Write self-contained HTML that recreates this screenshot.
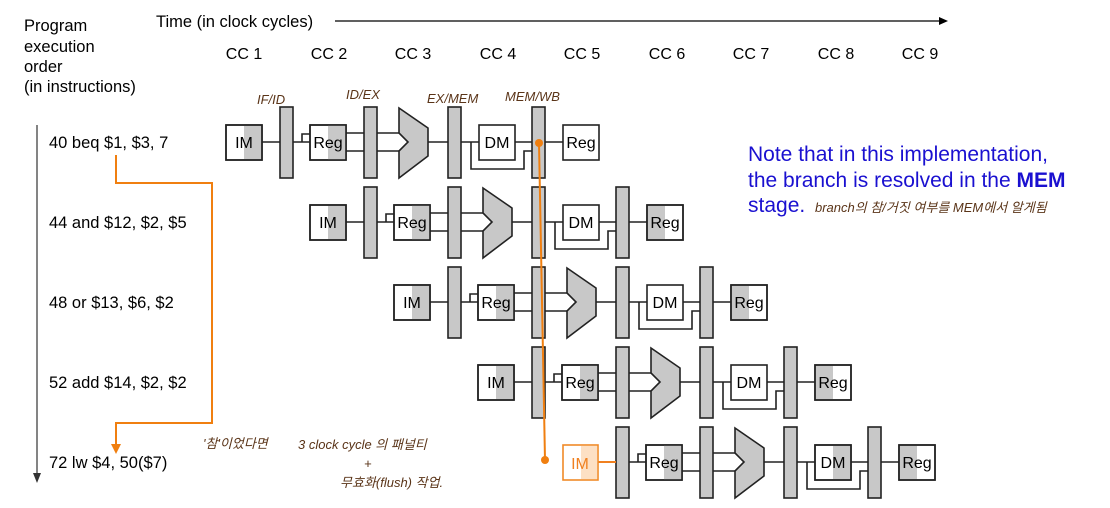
<!DOCTYPE html>
<html><head><meta charset="utf-8"><style>
body{margin:0;background:#fff;width:1110px;height:508px;overflow:hidden}
svg{display:block}
text{font-family:"Liberation Sans","Noto Sans CJK KR",sans-serif}
.h{fill:#5a3418;font-family:"Liberation Sans","Noto Sans CJK KR",sans-serif;font-style:italic;font-size:13px}
</style></head><body>
<svg width="1110" height="508" viewBox="0 0 1110 508" xmlns="http://www.w3.org/2000/svg">
<defs>
<g id="base" stroke="#222" stroke-width="1.6" fill="none">
  <rect x="280" y="107" width="13" height="71" fill="#c8c8c8"/>
  <path d="M293 142H310M302 142V134H310"/>
  <path d="M346 133H364M346 151H364"/>
  <rect x="364" y="107" width="13" height="71" fill="#c8c8c8"/>
  <path d="M377 133H399M377 151H399"/>
  <polygon points="399,108 428,128 428,156 399,178 399,151 408,142 399,133" fill="#c8c8c8"/>
  <path d="M428 142H448"/>
  <rect x="448" y="107" width="13" height="71" fill="#c8c8c8"/>
  <path d="M461 142H479M471 142V169H524V151H532"/>
  <path d="M515 142H532"/>
  <rect x="532" y="107" width="13" height="71" fill="#c8c8c8"/>
  <path d="M545 142H563"/>
  <rect x="310" y="125" width="36" height="35" fill="#fff"/>
  <rect x="328" y="125" width="18" height="35" fill="#c8c8c8" stroke="none"/>
  <rect x="310" y="125" width="36" height="35"/>
  <rect x="479" y="125" width="36" height="35" fill="#fff"/>
  <rect x="563" y="125" width="36" height="35" fill="#fff"/>
</g>
<g id="im">
  <path d="M262 142H280" stroke="#222" stroke-width="1.6"/>
  <rect x="226" y="125" width="36" height="35" fill="#fff" stroke="#222" stroke-width="1.6"/>
  <rect x="244" y="126" width="17" height="33" fill="#c8c8c8"/>
  <rect x="226" y="125" width="36" height="35" fill="none" stroke="#222" stroke-width="1.6"/>
</g>
</defs>

<g font-size="16.5" fill="#000">
<text x="24" y="31">Program</text>
<text x="24" y="52">execution</text>
<text x="24" y="72">order</text>
<text x="24" y="92">(in instructions)</text>
<text x="156" y="27" font-size="16.5">Time (in clock cycles)</text>
</g>
<line x1="335" y1="21" x2="940" y2="21" stroke="#000" stroke-width="1.2"/>
<polygon points="948,21 939,17 939,25" fill="#000"/>
<g font-size="16" text-anchor="middle">
<text x="244" y="59">CC 1</text><text x="329" y="59">CC 2</text><text x="413" y="59">CC 3</text>
<text x="498" y="59">CC 4</text><text x="582" y="59">CC 5</text><text x="667" y="59">CC 6</text>
<text x="751" y="59">CC 7</text><text x="836" y="59">CC 8</text><text x="920" y="59">CC 9</text>
</g>
<line x1="37" y1="125" x2="37" y2="474" stroke="#333" stroke-width="1.2"/>
<polygon points="37,483 33,473 41,473" fill="#333"/>
<g font-size="16.5">
<text x="49" y="148">40 beq $1, $3, 7</text>
<text x="49" y="228">44 and $12, $2, $5</text>
<text x="49" y="308">48 or $13, $6, $2</text>
<text x="49" y="388">52 add $14, $2, $2</text>
<text x="49" y="468">72 lw $4, 50($7)</text>
</g>

<use href="#base"/><use href="#im"/>
<use href="#base" transform="translate(84,80)"/><use href="#im" transform="translate(84,80)"/>
<use href="#base" transform="translate(168,160)"/><use href="#im" transform="translate(168,160)"/>
<use href="#base" transform="translate(252,240)"/><use href="#im" transform="translate(252,240)"/>
<use href="#base" transform="translate(336,320)"/>
<g fill="#c8c8c8">
<rect x="648" y="206" width="17" height="33"/>
<rect x="732" y="286" width="17" height="33"/>
<rect x="816" y="366" width="17" height="33"/>
<rect x="833" y="446" width="17" height="33"/>
<rect x="900" y="446" width="17" height="33"/>
</g>
<g fill="none" stroke="#222" stroke-width="1.6">
<rect x="647" y="205" width="36" height="35"/>
<rect x="731" y="285" width="36" height="35"/>
<rect x="815" y="365" width="36" height="35"/>
<rect x="815" y="445" width="36" height="35"/>
<rect x="899" y="445" width="36" height="35"/>
</g>
<g font-size="16" text-anchor="middle" fill="#000">
<text x="244" y="148">IM</text><text x="328" y="148">Reg</text><text x="497" y="148">DM</text><text x="581" y="148">Reg</text>
<text x="328" y="228">IM</text><text x="412" y="228">Reg</text><text x="581" y="228">DM</text><text x="665" y="228">Reg</text>
<text x="412" y="308">IM</text><text x="496" y="308">Reg</text><text x="665" y="308">DM</text><text x="749" y="308">Reg</text>
<text x="496" y="388">IM</text><text x="580" y="388">Reg</text><text x="749" y="388">DM</text><text x="833" y="388">Reg</text>
<text x="664" y="468">Reg</text><text x="833" y="468">DM</text><text x="917" y="468">Reg</text>
</g>
<path d="M598 462H616" stroke="#f08020" stroke-width="2"/>
<rect x="563" y="445" width="35" height="35" fill="#fff" stroke="#f08a28" stroke-width="1.6"/>
<rect x="581" y="446" width="16" height="33" fill="#fde0c4"/>
<text x="580" y="469" font-size="16" text-anchor="middle" fill="#f08020">IM</text>

<line x1="539" y1="143" x2="545" y2="460" stroke="#f07f10" stroke-width="2"/>
<circle cx="539" cy="143" r="4" fill="#f07f10"/>
<circle cx="545" cy="460" r="4" fill="#f07f10"/>
<path d="M116 155V183H212V423H116V446" fill="none" stroke="#f07f10" stroke-width="2"/>
<polygon points="116,454 111,444 121,444" fill="#f07f10"/>

<text class="h" x="257" y="104">IF/ID</text>
<text class="h" x="346" y="99">ID/EX</text>
<text class="h" x="427" y="103">EX/MEM</text>
<text class="h" x="505" y="101">MEM/WB</text>
<text class="h" x="203" y="448" font-size="14">'참'이었다면</text>
<text class="h" x="298" y="449" font-size="14">3 clock cycle 의 패널티</text>
<text class="h" x="364" y="468" font-size="14">+</text>
<text class="h" x="340" y="487" font-size="14">무효화(flush) 작업.</text>

<g font-size="21" fill="#1a10d0">
<text x="748" y="161">Note that in this implementation,</text>
<text x="748" y="187">the branch is resolved in the <tspan font-weight="bold">MEM</tspan></text>
<text x="748" y="212">stage.</text>
</g>
<text class="h" x="815" y="212" font-size="15">branch의  참/거짓 여부를  MEM에서 알게됨</text>
</svg>
</body></html>
